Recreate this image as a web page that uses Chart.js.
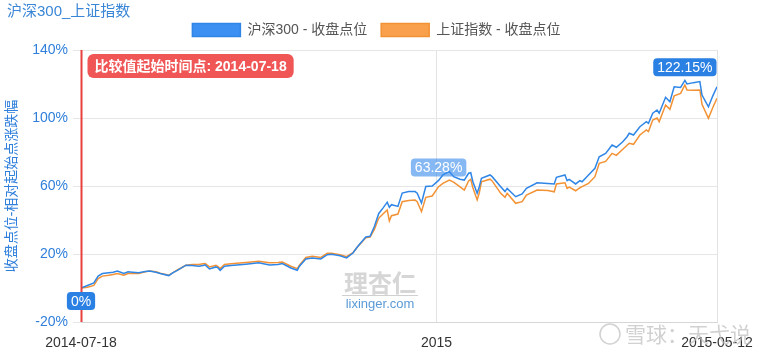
<!DOCTYPE html>
<html>
<head>
<meta charset="utf-8">
<script src="https://cdn.jsdelivr.net/npm/chart.js@4.4.0/dist/chart.umd.min.js"></script>
<style>
  html, body { margin: 0; padding: 0; background: #fff; }
</style>
</head>
<body>
<canvas id="grafico" width="759" height="356"></canvas>
<script>
// dias desde 2014-07-18
const dias = [0, 3, 6, 8, 10, 13, 15, 17, 20, 22, 24, 27, 30, 32, 35, 37, 41, 43, 45, 49,
    52, 55, 57, 58, 60, 63, 64, 65, 67, 70, 77, 83, 88, 92, 94, 98, 101, 102, 105, 108,
    112, 115, 117, 121, 124, 127, 129, 133, 135, 137, 139, 141, 143, 144, 145, 148, 150, 153, 156, 157,
    159, 161, 164, 167, 169, 172, 174, 177, 179, 181, 182, 183, 185, 186, 187, 191, 192, 196, 198, 199,
    203, 206, 208, 213, 218, 221, 222, 226, 227, 228, 231, 233, 234, 237, 240, 242, 245, 248, 250, 253,
    255, 256, 258, 261, 264, 265, 267, 269, 270, 273, 275, 277, 280, 282, 283, 286, 289, 290, 293, 295, 297];

// 沪深300 涨跌幅 (%)
const hs300 = [0, 1.5, 3, 7, 8.5, 9, 9.3, 10, 8.5, 9.5, 9.3, 9, 9.7, 10, 9.3, 8.5, 7.3, 9, 10.4, 13.4,
    13.2, 12.8, 13.2, 13.6, 11.2, 12.4, 11.8, 10.4, 12.8, 13.2, 14, 14.8, 13.6, 13.8, 14.4, 11.8, 10.4, 12.8, 17.1, 17.7,
    17.1, 19.6, 19.8, 19, 17.7, 20.6, 24.1, 30, 30.4, 36.2, 43.7, 47, 50.5, 47.5, 49, 48, 55.8, 56.7, 56.7, 55.8,
    50, 59.7, 60, 63.28, 66.5, 68.5, 65.5, 64, 63.5, 67.5, 67.8, 62.5, 55.7, 59.6, 64.5, 66.5, 65.5, 59.6, 56.7, 58.6,
    53.7, 55.3, 58.6, 61.9, 61.5, 61.2, 65.1, 66.5, 63.1, 63.9, 61.2, 63.1, 62.5, 66.5, 70.4, 77.2, 79.2, 84.1, 82.8, 86,
    89, 91, 90, 94.9, 97.8, 96.9, 102.8, 104.7, 102.8, 112.2, 109.6, 118.4, 118, 122.15, 120, 120.8, 121.4, 113.5, 106.6, 112.9, 118.4];

// 上证指数 涨跌幅 (%)
const shangzheng = [0, 0.5, 1.5, 5.5, 7, 7.5, 8, 8.5, 7.5, 8.5, 8.5, 8.5, 9.5, 10, 9.5, 8.7, 7.5, 9, 10.6, 13.4,
    13.8, 13.8, 14.2, 14.4, 12.4, 13.4, 12.6, 11.4, 13.8, 14.2, 15, 15.8, 14.8, 15, 15.3, 12.8, 11.4, 13.4, 18, 18.6,
    18, 20.4, 20.4, 19.6, 18.4, 20.8, 24, 29.5, 30, 34.5, 41, 43.5, 45.9, 39.5, 42.5, 43.5, 50.8, 51.5, 51.7, 50.8,
    44.9, 53.3, 54.1, 59.6, 61.5, 63.5, 62.3, 59.5, 57.6, 63, 64, 59, 51.8, 56, 62.5, 64, 63, 55.7, 53.3, 55.7,
    49.8, 50.8, 54.7, 57.6, 57.3, 56.6, 61.2, 61.9, 58.6, 59.3, 57.2, 59, 59.6, 61.5, 65.5, 73.3, 74.5, 79.2, 78, 81.6,
    84, 85.1, 84.5, 90, 93, 92, 98.8, 100, 97.8, 107.6, 105.1, 113, 114.5, 119.4, 116.5, 116.3, 116.5, 108, 99.8, 106, 111.6];

const tickDias = [0, 166, 297];
const tickTextos = ["2014-07-18", "2015", "2015-05-12"];
const fechaInicio = "2014-07-18";

window.onload = function () {
    const fuente = '"Liberation Sans", "Noto Sans CJK SC", sans-serif';
    Chart.defaults.font.family = fuente;

    const azul = "#2f7fdb";

    function caja(ctx, texto, cx, y, arriba, fondo, fontPx) {
        ctx.font = fontPx + "px " + fuente;
        const w = ctx.measureText(texto).width + 8;
        const h = 18;
        const top = arriba ? y - 4 - h : y + 4;
        ctx.fillStyle = fondo;
        ctx.beginPath();
        ctx.roundRect(cx - w / 2, top, w, h, 4);
        ctx.fill();
        ctx.fillStyle = "#fff";
        ctx.textAlign = "center";
        ctx.textBaseline = "middle";
        ctx.fillText(texto, cx, top + h / 2 + 1);
    }

    function formato(v) {
        return Number(v.toFixed(2)) + "%";
    }

    const marcas = {
        id: "marcas",
        afterLayout(chart) {
            // titulo a la izquierda, leyenda algo mas a la derecha y arriba
            chart.titleBlock.left = 7;
            chart.legend.left += 18;
            chart.legend.right += 18;
            chart.legend.top -= 3;
        },
        beforeDatasetsDraw(chart) {
            const ctx = chart.ctx;
            ctx.save();
            // marcas de agua
            ctx.textAlign = "center";
            ctx.textBaseline = "alphabetic";
            ctx.font = "bold 24px " + fuente;
            ctx.fillStyle = "#d6d6d6";
            ctx.fillText("理杏仁", 380, 292);
            ctx.strokeStyle = "#d0d0d0";
            ctx.lineWidth = 1;
            ctx.beginPath();
            ctx.moveTo(342, 295.5);
            ctx.lineTo(418, 295.5);
            ctx.stroke();
            ctx.font = "13px " + fuente;
            ctx.fillStyle = "#5b9ad6";
            ctx.fillText("lixinger.com", 380, 308);

            ctx.font = "21px " + fuente;
            ctx.textAlign = "left";
            ctx.fillStyle = "rgba(190,190,190,0.7)";
            ctx.fillText("雪球：天弋说", 625, 342);
            ctx.strokeStyle = "rgba(190,190,190,0.7)";
            ctx.lineWidth = 1.5;
            ctx.beginPath();
            ctx.arc(610, 334, 10, 0, Math.PI * 2);
            ctx.stroke();
            ctx.restore();
        },
        afterDatasetsDraw(chart) {
            const ctx = chart.ctx;
            const xs = chart.scales.x;
            const ys = chart.scales.y;
            const area = chart.chartArea;
            ctx.save();

            // linea roja de inicio
            const x0 = Math.round(xs.getPixelForValue(dias[0])) + 0.5;
            ctx.strokeStyle = "#e8403c";
            ctx.lineWidth = 2;
            ctx.beginPath();
            ctx.moveTo(x0, area.top);
            ctx.lineTo(x0, area.bottom);
            ctx.stroke();

            const texto = "比较值起始时间点: " + fechaInicio;
            ctx.font = "bold 14px " + fuente;
            const w = ctx.measureText(texto).width + 14;
            ctx.fillStyle = "#f05656";
            ctx.beginPath();
            ctx.roundRect(x0 + 6, area.top + 4, w, 24, 6);
            ctx.fill();
            ctx.fillStyle = "#fff";
            ctx.textAlign = "left";
            ctx.textBaseline = "middle";
            ctx.fillText(texto, x0 + 13, area.top + 17);

            // etiquetas de valor
            let iMax = 0;
            hs300.forEach((v, i) => { if (v > hs300[iMax]) iMax = i; });
            const i2015 = dias.findIndex(d => d >= tickDias[1]);

            caja(ctx, formato(hs300[0]), xs.getPixelForValue(dias[0]), ys.getPixelForValue(hs300[0]), false, "#2a80e3", 14);
            caja(ctx, formato(hs300[i2015]), xs.getPixelForValue(dias[i2015]), ys.getPixelForValue(hs300[i2015]), true, "rgba(60,140,235,0.62)", 14);
            caja(ctx, formato(hs300[iMax]), xs.getPixelForValue(dias[iMax]), ys.getPixelForValue(hs300[iMax]), true, "#2a80e3", 14);
            ctx.restore();
        }
    };

    const ctx = document.getElementById("grafico").getContext("2d");
    new Chart(ctx, {
        type: "line",
        data: {
            datasets: [
                {
                    label: "沪深300 - 收盘点位",
                    data: dias.map((d, i) => ({ x: d, y: hs300[i] })),
                    borderColor: "#2f86e6",
                    backgroundColor: "#3b90f2",
                    borderWidth: 1.5,
                    pointRadius: 0,
                    fill: false
                },
                {
                    label: "上证指数 - 收盘点位",
                    data: dias.map((d, i) => ({ x: d, y: shangzheng[i] })),
                    borderColor: "#f29234",
                    backgroundColor: "#f9a04c",
                    borderWidth: 1.5,
                    pointRadius: 0,
                    fill: false
                }
            ]
        },
        options: {
            responsive: false,
            animation: false,
            layout: { padding: { left: 0, right: 42, top: 0, bottom: 0 } },
            plugins: {
                title: {
                    display: true,
                    text: "沪深300_上证指数",
                    align: "start",
                    color: "#3a86d6",
                    font: { size: 15, weight: "normal" },
                    padding: { top: 3, bottom: -9 }
                },
                legend: {
                    labels: {
                        boxWidth: 48,
                        boxHeight: 13,
                        color: "#555",
                        font: { size: 14 },
                        padding: 14
                    }
                },
                tooltip: { enabled: false }
            },
            scales: {
                x: {
                    type: "linear",
                    min: 0,
                    max: 297,
                    afterBuildTicks: s => { s.ticks = tickDias.map(v => ({ value: v })); },
                    afterFit: s => {
                        s.height = 34;
                        s.paddingLeft = 0;
                        s.paddingRight = 0;
                    },
                    ticks: {
                        callback: v => tickTextos[tickDias.indexOf(v)],
                        color: "#333",
                        font: { size: 14 },
                        maxRotation: 0,
                        autoSkip: false,
                        padding: 13
                    },
                    grid: { color: "#e3e3e3", drawTicks: false },
                    border: { color: "#d6d6d6" }
                },
                y: {
                    min: -20,
                    max: 140,
                    afterFit: s => { s.width = 81; },
                    ticks: {
                        stepSize: 40,
                        callback: v => v + "%",
                        color: azul,
                        font: { size: 14 },
                        padding: 5
                    },
                    grid: { color: "#e6e6e6", tickLength: 8 },
                    border: { display: false },
                    title: {
                        display: true,
                        text: "收盘点位-相对起始点涨跌幅",
                        color: azul,
                        font: { size: 14 },
                        padding: { top: 4, bottom: 0 }
                    }
                }
            }
        },
        plugins: [marcas]
    });
};
</script>
</body>
</html>
